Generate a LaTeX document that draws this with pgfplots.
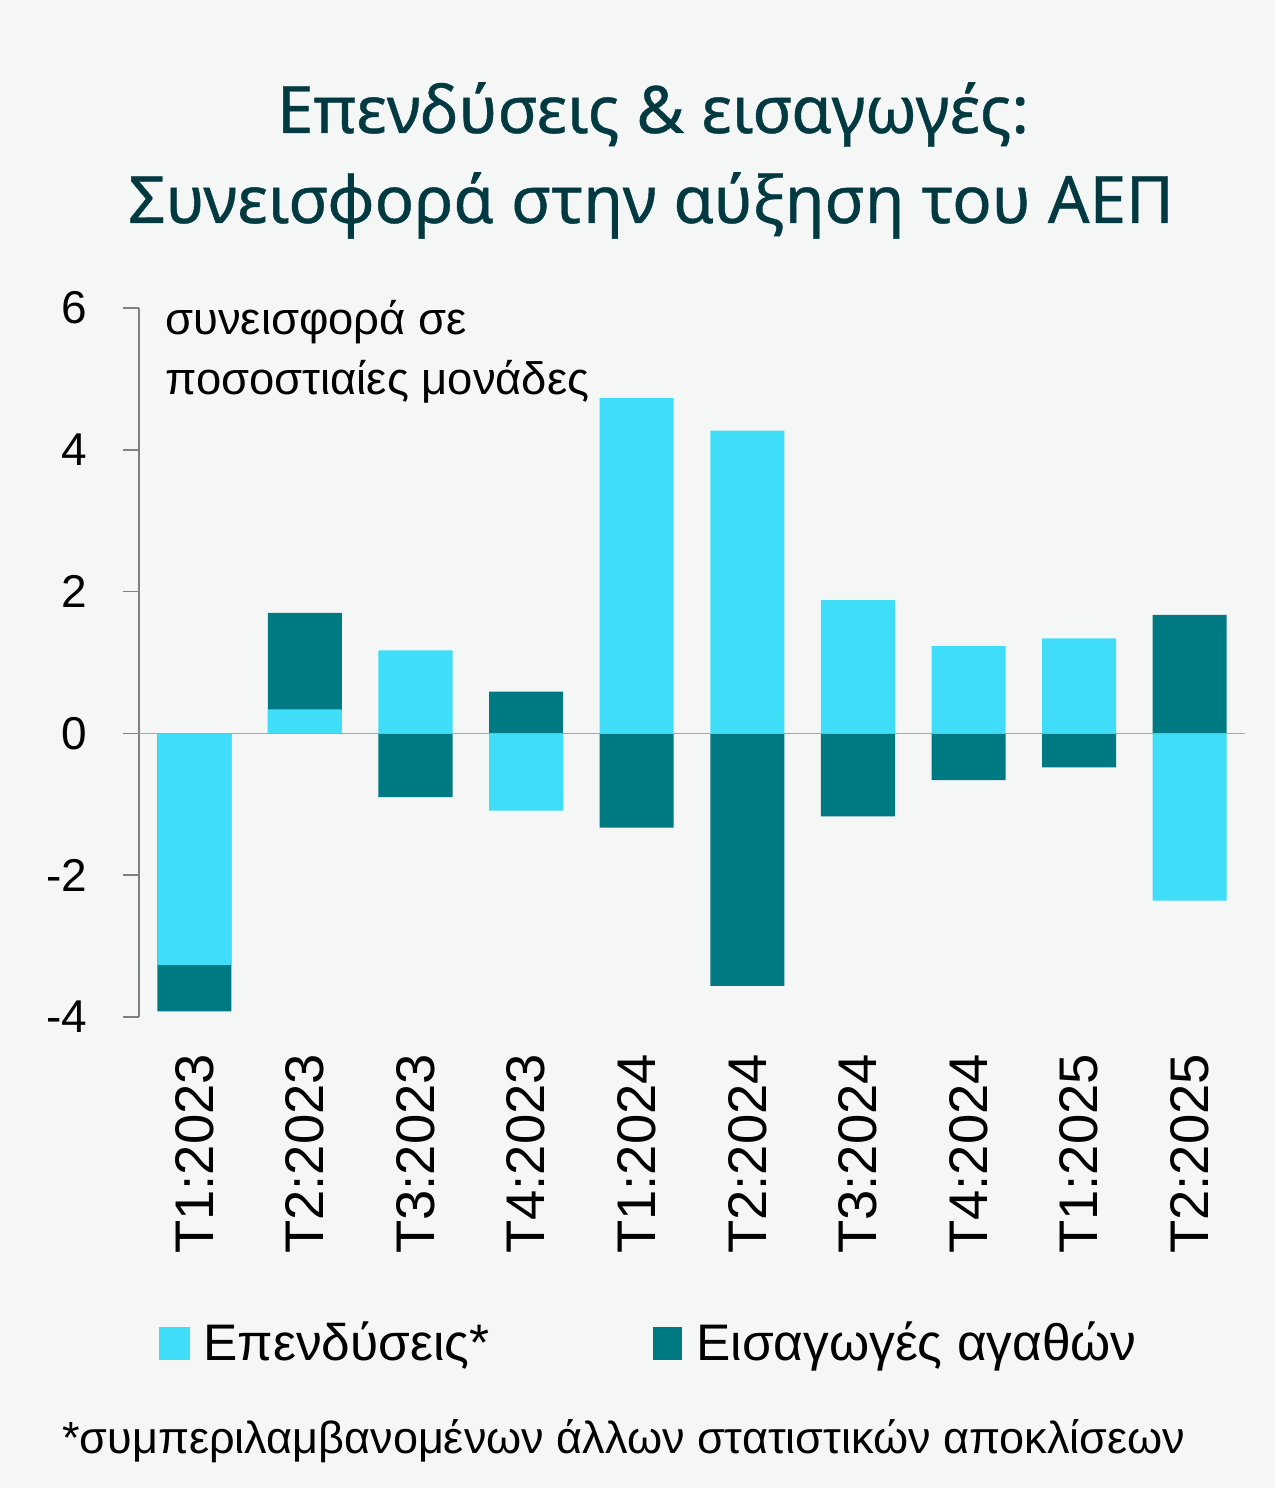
\documentclass[border=0pt]{standalone}
\usepackage{fontspec}
\setmainfont{Liberation Sans}
\newfontfamily\titlefont[FakeBold=0.6]{Noto Sans}
\usepackage{pgfplots}
\pgfplotsset{compat=1.18}
\definecolor{bgc}{HTML}{F5F7F7}
\definecolor{lightc}{HTML}{40DDF8}
\definecolor{darkc}{HTML}{007A82}
\definecolor{titlec}{HTML}{033A42}
\definecolor{axisc}{HTML}{808080}
\definecolor{zeroc}{HTML}{A6A6A6}
\begin{document}
\begin{tikzpicture}[x=1pt,y=1pt]
\fill[bgc] (-69.5,-235.5) rectangle (568,508.5);
\begin{axis}[
  at={(0,0)}, anchor=south west,
  scale only axis, width=553pt, height=354.5pt,
  xmin=-0.5, xmax=9.5, ymin=-4, ymax=6,
  axis y line*=left, axis x line*=bottom,
  x axis line style={draw=none},
  y axis line style={draw=axisc, line width=0.75pt},
  xtick={0,...,9},
  xticklabels={T1:2023,T2:2023,T3:2023,T4:2023,T1:2024,T2:2024,T3:2024,T4:2024,T1:2025,T2:2025},
  xtick style={draw=none},
  x tick label style={rotate=90, anchor=east, font=\fontsize{27.2}{32}\selectfont},
  xticklabel shift=7pt,
  ytick={-4,-2,0,2,4,6},
  yticklabels={{-4},{-2},0,2,4,6},
  y tick label style={font=\fontsize{23}{27}\selectfont},
  yticklabel shift=14.5pt,
  tick align=outside,
  major tick length=8pt,
  ytick style={draw=axisc, line width=0.75pt},
  ybar, bar width=37pt, bar shift=0pt,
  clip=false,
]
\addplot[fill=darkc, draw=none] coordinates {
 (0,-3.92) (1,1.70) (2,-0.90) (3,0.59) (4,-1.33)
 (5,-3.56) (6,-1.17) (7,-0.66) (8,-0.48) (9,1.67)};
\addplot[fill=lightc, draw=none] coordinates {
 (0,-3.27) (1,0.34) (2,1.17) (3,-1.09) (4,4.73)
 (5,4.27) (6,1.88) (7,1.23) (8,1.34) (9,-2.36)};
\draw[zeroc, line width=0.75pt] (axis cs:-0.5,0) -- (axis cs:9.5,0);
\end{axis}
% y label
\node[anchor=base west, inner sep=0pt, font=\fontsize{22.7}{30}\selectfont] at (13,341) {συνεισφορά σε};
\node[anchor=base west, inner sep=0pt, font=\fontsize{22.7}{30}\selectfont] at (13,311) {ποσοστιαίες μονάδες};
% title
\node[anchor=base, inner sep=0pt, text=titlec, font=\titlefont\fontsize{32.7}{45}\selectfont] at (257,442) {Επενδύσεις \& εισαγωγές:};
\node[anchor=base, inner sep=0pt, text=titlec, font=\titlefont\fontsize{32.7}{45}\selectfont] at (256,397) {Συνεισφορά στην αύξηση του ΑΕΠ};
% legend
\fill[lightc] (10,-171.5) rectangle (25.5,-155);
\node[anchor=base west, inner sep=0pt, font=\fontsize{25.7}{30}\selectfont] at (32,-171.5) {Επενδύσεις*};
\fill[darkc] (257,-171.5) rectangle (271.5,-155);
\node[anchor=base west, inner sep=0pt, font=\fontsize{25.7}{30}\selectfont] at (278.5,-171.5) {Εισαγωγές αγαθών};
% footnote
\node[anchor=base west, inner sep=0pt, font=\fontsize{22.5}{26}\selectfont] at (-38.5,-218) {*συμπεριλαμβανομένων άλλων στατιστικών αποκλίσεων};
\end{tikzpicture}
\end{document}
